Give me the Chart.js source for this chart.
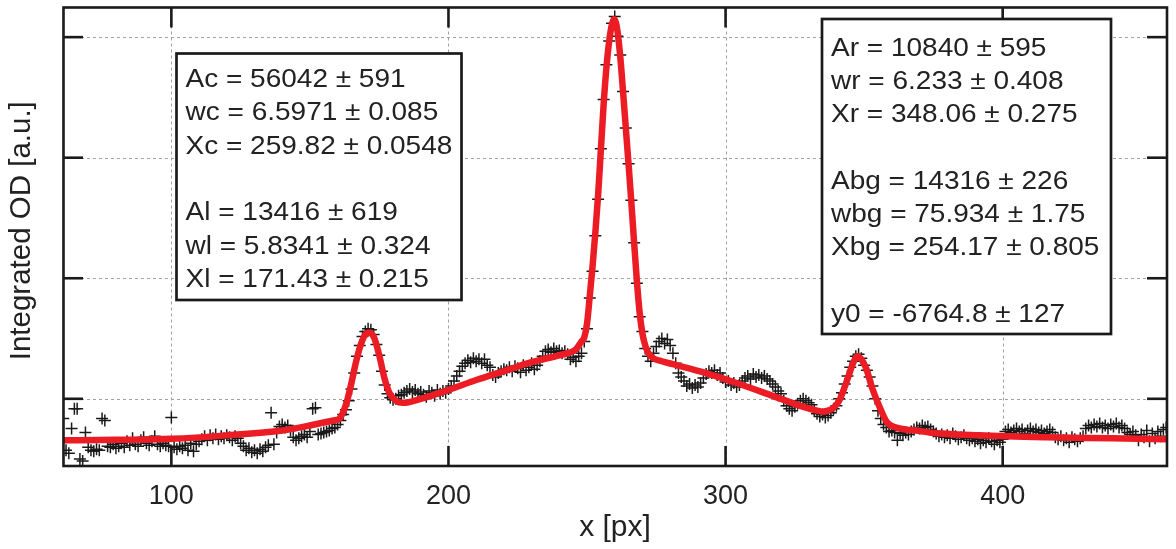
<!DOCTYPE html>
<html>
<head>
<meta charset="utf-8">
<script src="https://cdn.jsdelivr.net/npm/chart.js@4.4.1/dist/chart.umd.min.js"></script>
<style>
  html, body { margin: 0; padding: 0; background: #fff; }
  #chart { display: block; }
</style>
</head>
<body>
<canvas id="chart" width="1176" height="549"></canvas>
<script>
// Integrated OD profile with a three-peak Gaussian fit
// measured profile: one value per pixel column, starting at x = 61 px
const X_FIRST = 61;
const odValues = [
  -3279, -8525, -9016, -4918, -1639, -1639, -10000, -10328, -5574, -8033,
  -8525, -8689, -8361, -8525, -3279, -3607, -7869, -8033, -7541, -8197,
  -7869, -7377, -8033, -7049, -7705, -6557, -7541, -7869, -6885, -6393,
  -7377, -7705, -7049, -6229, -7541, -7869, -7377, -7705, -7869, -3115,
  -8033, -8361, -7869, -8197, -7705, -8525, -7377, -8689, -7541, -7049,
  -6721, -6229, -6885, -6066, -6557, -5902, -6721, -6229, -6557, -6066,
  -6393, -6885, -6229, -6557, -7377, -7869, -8525, -8197, -8852, -8525,
  -9016, -8361, -8689, -8033, -7705, -2295, -7541, -5574, -4590, -4262,
  -4754, -4426, -5246, -6393, -6885, -6557, -6229, -5902, -6393, -5410,
  -1639, -1475, -5902, -5738, -5574, -5410, -5246, -4918, -4754, -4262,
  -3607, -2623, -1803, -328, 1639, 4262, 7049, 8852, 10328, 11148,
  11639, 11475, 10656, 9016, 7213, 4590, 2295, 820, 164, -164,
  0, 492, 656, 984, 1311, 1639, 1148, 1475, 820, 1148,
  656, 328, 1311, 984, 492, 1475, 820, 1311, 984, 1639,
  2131, 2951, 3770, 4590, 5410, 5902, 6393, 6066, 6721, 6229,
  6557, 5902, 6557, 5574, 5246, 3934, 3607, 4262, 4590, 4918,
  4754, 5246, 4590, 5410, 5082, 4426, 5574, 4754, 5246, 5902,
  4918, 5574, 6229, 7049, 7869, 8197, 7705, 8361, 7869, 8033,
  7541, 7869, 7377, 6557, 6885, 6229, 7049, 7541, 9508, 11639,
  16721, 21148, 27049, 33115, 41475, 49672, 55410, 59344, 62295, 63443,
  60164, 57049, 50984, 44918, 39016, 32951, 25901, 19180, 13607, 11148,
  8361, 7049, 6229, 7541, 8689, 9508, 10000, 9180, 9836, 8852,
  7541, 5902, 4262, 3607, 2951, 2131, 2459, 1803, 2295, 1967,
  2623, 3443, 4098, 4590, 4262, 4754, 3934, 4262, 3443, 2787,
  2951, 2295, 2623, 1967, 2295, 2951, 3443, 3770, 3279, 4098,
  3607, 3934, 3443, 3770, 3279, 2951, 2459, 1967, 1311, 820,
  -328, -1148, -1639, -1967, -1311, -820, -328, 0, -328, -656,
  -984, -1967, -2459, -2951, -2623, -3115, -2787, -2295, -1639, -1148,
  0, 984, 2459, 3770, 5246, 6229, 7049, 7377, 6721, 5574,
  4754, 3607, 2131, 0, -1967, -3279, -4262, -4754, -5410, -5246,
  -5574, -6885, -5738, -6066, -5574, -5902, -5410, -5082, -4754, -4918,
  -4426, -4754, -4590, -5082, -5410, -5738, -6229, -5902, -6393, -6066,
  -6557, -5738, -6229, -6721, -6393, -6066, -6557, -6885, -6557, -7049,
  -6721, -7377, -6885, -7213, -6557, -7049, -7541, -6885, -7213, -6721,
  -5410, -5082, -5574, -5246, -4918, -5410, -5082, -5738, -5246, -4918,
  -5410, -5082, -5574, -5246, -5738, -5410, -5082, -5574, -6393, -6721,
  -6229, -6885, -6557, -7213, -6393, -6721, -7049, -6557, -6229, -4918,
  -4426, -4754, -4262, -4590, -4098, -4754, -4426, -4918, -4262, -4590,
  -4098, -4754, -4426, -4918, -5574, -5902, -5410, -6066, -6885, -5902,
  -6393, -5246, -7049, -5738, -6557, -5410, -6229, -5082, -4754
];

// fitted curve
const fitX = [61, 80, 100, 120, 140, 150, 155, 158.5, 160.7, 163.1,
  164.9, 166.7, 168.5, 170.3, 171.5, 173.3, 175.1, 176.9, 178.7, 181.1,
  183.5, 190, 200, 210, 220, 230, 240, 244, 246, 248,
  249, 250, 251, 252, 253, 254, 255, 256, 257, 258,
  259, 259.7, 260.4, 261, 262, 263, 264, 265, 266, 267,
  268, 269, 270, 271, 272, 274, 277, 281, 293, 305,
  317, 329, 333, 335, 337, 339, 341, 343, 344.6, 346,
  347.5, 349, 350.7, 352.9, 355.4, 358.3, 361.6, 365, 370, 373.5,
  391.5, 415.7, 439.5, 459];
const fitY = [-6885, -6803, -6639, -6066, -5246, -4426, -3934, -3607, -3279, -820,
  2459, 6229, 9180, 10820, 10983, 10000, 7049, 3443, 984, -328,
  -656, 0, 1475, 3115, 4590, 6066, 7213, 7705, 8197, 9508,
  10164, 12459, 17049, 21967, 27541, 33770, 41311, 48852, 54918, 59344,
  62131, 62951, 62459, 60984, 56721, 50984, 44918, 38852, 32623, 25901,
  19508, 14262, 10820, 8852, 7705, 6721, 6229, 5738, 4262, 2459,
  492, -1475, -1967, -2131, -1967, -1475, -328, 1967, 4098, 5902,
  7049, 6557, 5082, 1803, -1148, -3934, -4754, -5082, -5328, -5574,
  -6066, -6393, -6557, -6721];

const xTicks = [100, 200, 300, 400];
const yTicks = [0, 20000, 40000, 60000];

const leftParams = ['Ac = 56042 ± 591', 'wc = 6.5971 ± 0.085', 'Xc = 259.82 ± 0.0548', '',
  'Al = 13416 ± 619', 'wl = 5.8341 ± 0.324', 'Xl = 171.43 ± 0.215'];
const rightParams = ['Ar = 10840 ± 595', 'wr = 6.233 ± 0.408', 'Xr = 348.06 ± 0.275', '',
  'Abg = 14316 ± 226', 'wbg = 75.934 ± 1.75', 'Xbg = 254.17 ± 0.805', '',
  'y0 = -6764.8 ± 127'];

const FONT = "'Liberation Sans', Arial, Helvetica, sans-serif";
const INK = '#222';

document.addEventListener('DOMContentLoaded', function () {
  const measured = odValues.map((v, i) => ({ x: X_FIRST + i, y: v }));
  const fitted = fitX.map((x, i) => ({ x: x, y: fitY[i] }));

  function line(ctx, x1, y1, x2, y2) {
    ctx.beginPath();
    ctx.moveTo(x1, y1);
    ctx.lineTo(x2, y2);
    ctx.stroke();
  }

  // parameter box: white fill, black border, slightly wide text
  function drawBox(ctx, lines, x, y, w, h, firstBaseline) {
    ctx.save();
    ctx.fillStyle = '#fff';
    ctx.fillRect(x, y, w, h);
    ctx.strokeStyle = '#1a1a1a';
    ctx.lineWidth = 2.7;
    ctx.strokeRect(x, y, w, h);
    ctx.fillStyle = INK;
    ctx.font = '25px ' + FONT;
    ctx.textBaseline = 'alphabetic';
    lines.forEach((t, i) => {
      if (!t) return;
      ctx.save();
      ctx.translate(x + 9, firstBaseline + i * 33.33);
      ctx.scale(1.12, 1);
      ctx.fillText(t, 0, 0);
      ctx.restore();
    });
    ctx.restore();
  }

  const framePlugin = {
    id: 'frame',
    beforeDatasetsDraw(chart) {
      const { ctx, chartArea: a, scales: { x, y } } = chart;
      ctx.save();
      ctx.strokeStyle = '#a0a0a0';
      ctx.lineWidth = 1;
      ctx.setLineDash([3, 3]);
      xTicks.forEach(v => {
        const px = Math.round(x.getPixelForValue(v)) + 0.5;
        line(ctx, px, a.top, px, a.bottom);
      });
      yTicks.forEach(v => {
        const py = Math.round(y.getPixelForValue(v)) + 0.5;
        line(ctx, a.left, py, a.right, py);
      });
      ctx.restore();
    },
    afterDatasetsDraw(chart) {
      const { ctx, chartArea: a, scales: { x, y } } = chart;
      ctx.save();
      ctx.strokeStyle = '#1a1a1a';
      ctx.lineWidth = 2.6;
      ctx.strokeRect(a.left + 0.5, a.top, a.right - a.left - 0.5, a.bottom - a.top);
      const tl = 20;
      xTicks.forEach(v => {
        const px = x.getPixelForValue(v);
        line(ctx, px, a.bottom, px, a.bottom - tl);
        line(ctx, px, a.top, px, a.top + tl);
      });
      yTicks.forEach(v => {
        const py = y.getPixelForValue(v);
        line(ctx, a.left, py, a.left + tl, py);
        line(ctx, a.right, py, a.right - tl, py);
      });
      ctx.restore();

      drawBox(ctx, leftParams, 176.5, 53.5, 285, 246.5, 87);
      drawBox(ctx, rightParams, 822, 19, 289, 315, 55.5);

      // y axis title, centred a little above the plot middle as in the original
      ctx.save();
      ctx.fillStyle = INK;
      ctx.font = '29.5px ' + FONT;
      ctx.textAlign = 'center';
      ctx.textBaseline = 'middle';
      ctx.translate(22, (a.top + a.bottom) / 2 - 6);
      ctx.rotate(-Math.PI / 2);
      ctx.fillText('Integrated OD [a.u.]', 0, 0);
      ctx.restore();
    }
  };

  new Chart(document.getElementById('chart'), {
    type: 'scatter',
    data: {
      datasets: [
        {
          label: 'fit',
          data: fitted,
          showLine: true,
          borderColor: '#ec1c24',
          borderWidth: 6.5,
          pointRadius: 0,
          cubicInterpolationMode: 'monotone',
          order: 0
        },
        {
          label: 'data',
          data: measured,
          showLine: false,
          pointStyle: 'cross',
          pointRadius: 6,
          borderColor: '#1a1a1a',
          borderWidth: 1.5,
          order: 1
        }
      ]
    },
    options: {
      responsive: false,
      animation: false,
      devicePixelRatio: 1,
      layout: { padding: { top: 2, right: 9, left: 0, bottom: 0 } },
      plugins: { legend: { display: false }, tooltip: { enabled: false } },
      scales: {
        x: {
          type: 'linear',
          min: 60.9, max: 459.3,
          afterBuildTicks: s => { s.ticks = xTicks.map(v => ({ value: v })); },
          afterFit: s => { s.height = 83; },
          grid: { display: false, drawTicks: false },
          border: { display: false },
          ticks: { color: INK, font: { family: FONT, size: 27 }, padding: 14, maxRotation: 0 },
          title: { display: true, text: 'x [px]', color: INK,
                   font: { family: FONT, size: 30 }, padding: { top: 0, bottom: 3 } }
        },
        y: {
          type: 'linear',
          min: -11148, max: 64918,
          afterBuildTicks: s => { s.ticks = yTicks.map(v => ({ value: v })); },
          afterFit: s => { s.width = 63; },
          grid: { display: false, drawTicks: false },
          border: { display: false },
          ticks: { display: false },
          title: { display: false }
        }
      }
    },
    plugins: [framePlugin]
  });
});
</script>
</body>
</html>
